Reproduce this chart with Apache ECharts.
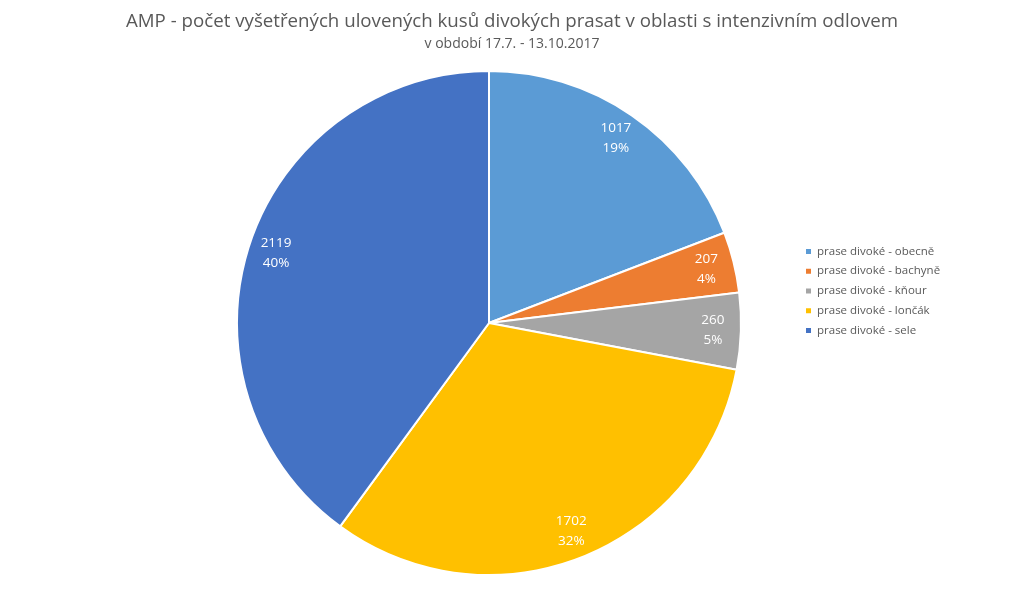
<!DOCTYPE html>
<html><head><meta charset="utf-8">
<script src="https://cdn.jsdelivr.net/npm/echarts@6/dist/echarts.min.js"></script>
<style>html,body{margin:0;padding:0;background:#fff}#c{width:1024px;height:598px}</style>
</head><body><div id="c"></div>
<script>
const categories = ['prase divoké - obecně','prase divoké - bachyně','prase divoké - kňour','prase divoké - lončák','prase divoké - sele'];
const values = [1017, 207, 260, 1702, 2119];
const colors = ['#5B9BD5','#ED7D31','#A5A5A5','#FFC000','#4472C4'];
const data = categories.map((n,i)=>({name:n, value:values[i], itemStyle:{color:colors[i]}}));
const font = 'Open Sans, Liberation Sans, sans-serif';
const chart = echarts.init(document.getElementById('c'));
chart.setOption({
  animation:false,
  backgroundColor:'#fff',
  title:{
    text:'AMP - počet vyšetřených ulovených kusů divokých prasat v oblasti s intenzivním odlovem',
    subtext:'v období 17.7. - 13.10.2017',
    left:'center', top:7, itemGap:6,
    textStyle:{fontFamily:font, fontSize:18.7, fontWeight:'normal', color:'#595959'},
    subtextStyle:{fontFamily:font, fontSize:14, color:'#595959'}
  },
  legend:{
    orient:'vertical', left:799, top:238, itemWidth:7, itemHeight:7, itemGap:3,
    icon:'rect',
    textStyle:{fontFamily:font, fontSize:11.5, lineHeight:16.75, color:'#595959'},
    data:categories
  },
  series:[
    {type:'pie', center:[489,323], radius:[0,252], startAngle:90, clockwise:true,
     label:{show:false}, labelLine:{show:false},
     itemStyle:{borderColor:'#fff', borderWidth:2},
     emphasis:{disabled:true}, data:data},
    {type:'pie', center:[489,323], radius:[190,252], startAngle:90, clockwise:true, silent:true,
     itemStyle:{color:'rgba(0,0,0,0)'}, legendHoverLink:false,
     label:{show:true, position:'inside', color:'#fff', fontFamily:font, fontSize:13.5, lineHeight:20,
       formatter:p=>p.value+'\n'+Math.round(p.percent)+'%'},
     labelLine:{show:false}, emphasis:{disabled:true},
     data:categories.map((n,i)=>({name:n, value:values[i], itemStyle:{color:'rgba(0,0,0,0)'}}))}
  ]
});
</script></body></html>
